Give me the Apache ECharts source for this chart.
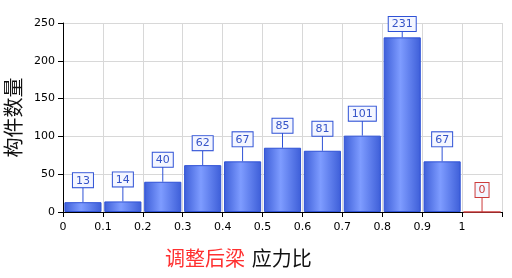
<!DOCTYPE html>
<html><head><meta charset="utf-8">
<script src="https://cdn.jsdelivr.net/npm/echarts@6/dist/echarts.min.js"></script>
<style>html,body{margin:0;padding:0;background:#fff}#c{width:512px;height:278px}</style>
</head><body><div id="c"></div>
<script>
var categories = ['0-0.1','0.1-0.2','0.2-0.3','0.3-0.4','0.4-0.5','0.5-0.6','0.6-0.7','0.7-0.8','0.8-0.9','0.9-1','1-1.1'];
var counts = [13,14,40,62,67,85,81,101,231,67,0];
var yTicks = [0,50,100,150,200,250];
var xTickLabels = ['0','0.1','0.2','0.3','0.4','0.5','0.6','0.7','0.8','0.9','1'];
var yName = '构件数量';
var xNameRed = '调整后梁';
var xNameBlack = '应力比';

var chart = echarts.init(document.getElementById('c'));
var blueGrad = new echarts.graphic.LinearGradient(0,0,1,0,[
  {offset:0,color:'#3d5ed8'},{offset:0.45,color:'#7e9cff'},{offset:1,color:'#3d5ed8'}]);
var barData = counts.map(function(v,i){
  var red = (v === 0);
  return {value:v, itemStyle:{color: red ? 'rgba(0,0,0,0)' : blueGrad, borderColor: red ? '#cc3b3b' : '#2f52d6', borderWidth:1}};
});
chart.setOption({
  animation:false,
  grid:{left:63,right:10,top:23,bottom:66,containLabel:false,outerBoundsMode:'none'},
  xAxis:[{
    type:'category', data:categories, show:false, boundaryGap:true
  },{
    type:'value', min:0, max:1.1, interval:0.1, position:'bottom',
    axisLine:{show:true,lineStyle:{color:'#000',width:1}},
    axisTick:{show:true,length:5,lineStyle:{color:'#000'}},
    axisLabel:{color:'#000',fontSize:11,fontFamily:'DejaVu Sans',margin:10,
      formatter:function(v){var i=Math.round(v*10); return i<xTickLabels.length?xTickLabels[i]:'';}},
    splitLine:{show:true,lineStyle:{color:'#d8d8d8',width:1}}
  }],
  yAxis:{
    type:'value', min:yTicks[0], max:yTicks[yTicks.length-1], interval:50,
    name:yName, nameLocation:'middle', nameGap:32, nameRotate:90,
    nameTextStyle:{fontSize:20,color:'#111',fontFamily:'Noto Sans CJK SC'},
    axisLine:{show:true,lineStyle:{color:'#000'}},
    axisTick:{show:true,length:5,lineStyle:{color:'#000'}},
    axisLabel:{color:'#000',fontSize:11,fontFamily:'DejaVu Sans',margin:8},
    splitLine:{show:true,lineStyle:{color:'#d8d8d8'}}
  },
  series:[{
    type:'bar', xAxisIndex:0, data:barData, barCategoryGap:'7%'
  },{
    type:'custom', xAxisIndex:0, z:5,
    data:counts.map(function(v,i){return [i,v];}),
    renderItem:function(params,api){
      var p = api.coord([api.value(0), api.value(1)]);
      var v = api.value(1);
      var red = v===0;
      var col = red ? '#cc3b3b' : '#2f52d6';
      var tcol = red ? '#cc3b3b' : '#3553c8';
      var boxBottom = Math.max(p[1]-15, 31);
      return {type:'group', children:[
        {type:'line', shape:{x1:p[0],y1:p[1],x2:p[0],y2:boxBottom}, style:{stroke:col,lineWidth:1}},
        {type:'text', x:p[0], y:boxBottom, style:{text:String(v), fill:tcol, font:'11px "DejaVu Sans"',
          align:'center', verticalAlign:'bottom', backgroundColor:'#f4f6ff', borderColor:col, borderWidth:1, padding:[2,3,1,3]}}
      ]};
    }
  }],
  graphic:[{
    type:'text', left:165, top:248,
    style:{text:'{r|'+xNameRed+'}  {b|'+xNameBlack+'}', rich:{
      r:{fill:'#ff3030',fontSize:20,fontFamily:'Noto Sans CJK SC'},
      b:{fill:'#111',fontSize:20,fontFamily:'Noto Sans CJK SC'}}}
  }]
});
</script></body></html>
